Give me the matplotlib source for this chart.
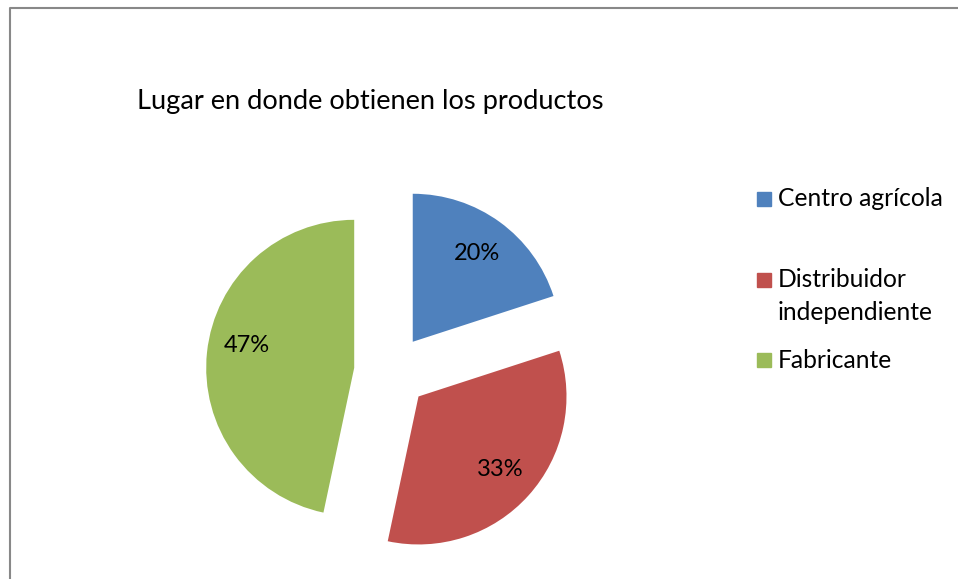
import numpy as np
import matplotlib
matplotlib.use('Agg')
import matplotlib.pyplot as plt
from matplotlib.patches import Rectangle
from matplotlib.lines import Line2D

plt.rcParams['font.family'] = ['Lato', 'DejaVu Sans']

title = 'Lugar en donde obtienen los productos'
categories = ['Centro agrícola', 'Distribuidor\nindependiente', 'Fabricante']
values = [3, 5, 7]  # 20%, 33%, 47%
colors = ['#4f81bd', '#c0504d', '#9bbb59']

W, H = 958, 579
fig = plt.figure(figsize=(W / 100, H / 100), dpi=100)
# axes in pixel units, y up
ax = fig.add_axes([0, 0, 1, 1])

# chart border (top and left visible)
ax.add_line(Line2D([10, 10, W], [0, H - 7.7, H - 7.7], color='#888888', lw=1.5))

r = 148
cx, cy = 391, H - 371.7
wedges, texts, autotexts = ax.pie(
    values, colors=colors, startangle=90, counterclock=False,
    radius=r, center=(cx, cy), explode=[37] * len(values),
    autopct='%1.0f%%', pctdistance=0.74, frame=True,
    textprops=dict(fontsize=17, color='black'))
ax.set_xlim(0, W)
ax.set_ylim(0, H)
ax.set_aspect('equal')
ax.axis('off')

# excel pushes the big slice's label a bit higher
w = wedges[2]
ang = np.deg2rad(168)
autotexts[2].set_position((w.center[0] + 0.74 * r * np.cos(ang),
                           w.center[1] + 0.74 * r * np.sin(ang)))

ax.text(137, H - 102, title, fontsize=19.6, va='center', ha='left')

# legend
leg_y = [199, 279.5, 360]
for cat, col, y in zip(categories, colors, leg_y):
    ax.add_patch(Rectangle((757.5, H - y - 7), 14, 14, color=col))
    lines = cat.split('\n')
    for i, ln in enumerate(lines):
        ax.text(778, H - y - i * 33, ln, fontsize=17.7, va='center', ha='left')

fig.savefig('out.png', dpi=100, facecolor='white')
